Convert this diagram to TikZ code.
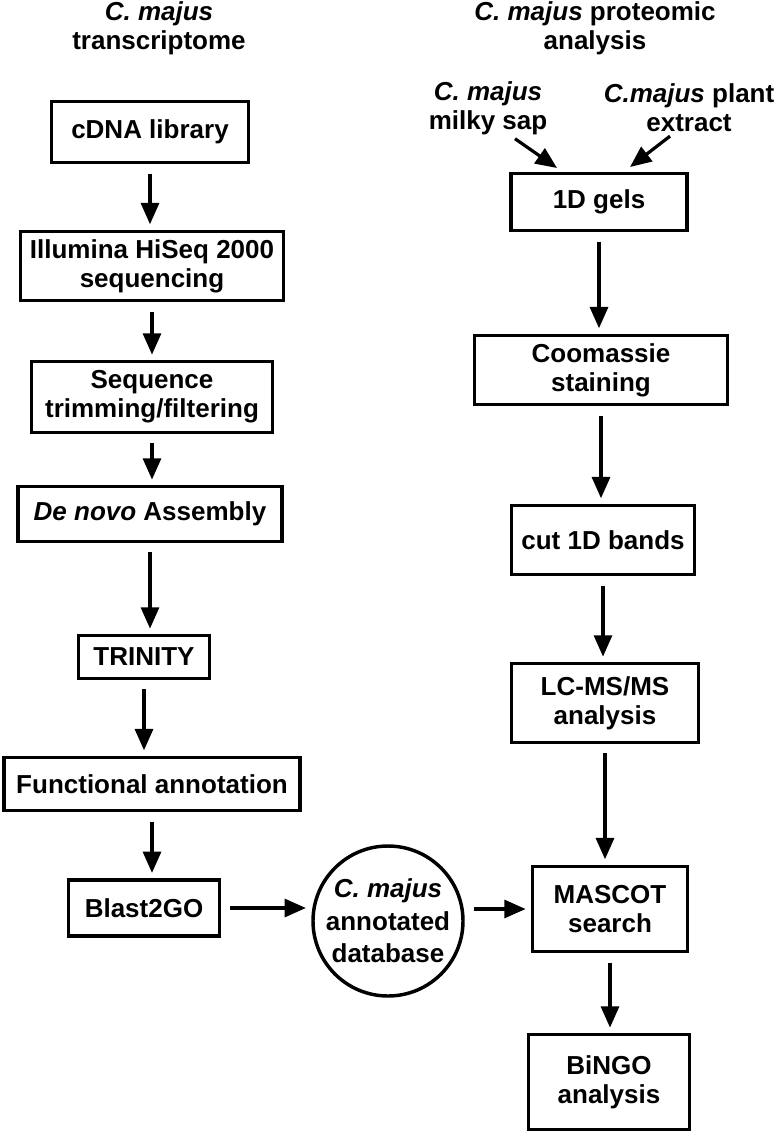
\documentclass[tikz,border=0pt]{standalone}
\usepackage{fontspec}
\setmainfont{Liberation Sans}
\usetikzlibrary{arrows.meta,calc}

\tikzset{
  box/.style={draw, line width=2.6pt, align=center, inner sep=2pt},
  lbl/.style={align=center, inner sep=0pt},
  arr/.style={line width=2.4pt, -{Triangle[length=16pt,width=13.5pt]},
    shorten <=7pt, shorten >=4pt},
}

\begin{document}
\begin{tikzpicture}[x=0.75pt,y=-0.75pt,font=\fontsize{19.5}{21.5}\selectfont\bfseries]
        \useasboundingbox (0,0) rectangle (774,1131);
        % headings
        \node[lbl] (trhead) at (159,28) {\textit{C. majus}\\transcriptome};
        \node[lbl] (prhead) at (595,28) {\textit{C. majus} proteomic\\analysis};
        \node[lbl] (sap) at (488,108) {\textit{C. majus}\\milky sap};
        \node[lbl] (extract) at (689,108) {\textit{C.majus} plant\\extract};
        % transcriptome column
        \node[box,minimum width=148pt,minimum height=46pt] (cdna) at (150,132) {cDNA library};
        \node[box,minimum width=197pt,minimum height=52pt] (illu) at (152,266) {Illumina HiSeq 2000\\sequencing};
        \node[box,minimum width=181pt,minimum height=53pt] (trim) at (152,397) {Sequence\\trimming/filtering};
        \node[box,minimum width=198pt,minimum height=41pt] (denovo) at (150,514) {\textit{De novo} Assembly};
        \node[box,minimum width=98pt,minimum height=32pt] (trinity) at (144,657) {TRINITY};
        \node[box,minimum width=222pt,minimum height=40pt] (func) at (152,784) {Functional annotation};
        \node[box,minimum width=113pt,minimum height=42pt] (blast) at (144,908) {Blast2GO};
        \node[box,circle,minimum size=108pt,inner sep=0pt,
              font=\fontsize{19.5}{24.5}\selectfont\bfseries] (db) at (388,921)
              {\textit{C. majus}\\annotated\\database};
        % proteomic column
        \node[box,minimum width=132pt,minimum height=43pt] (gels) at (599,202) {1D gels};
        \node[box,minimum width=190pt,minimum height=52pt] (coom) at (601,370) {Coomassie\\staining};
        \node[box,minimum width=137pt,minimum height=52pt] (cut) at (603,540) {cut 1D bands};
        \node[box,minimum width=140pt,minimum height=59pt] (lcms) at (605,703) {LC-MS/MS\\analysis};
        \node[box,minimum width=116pt,minimum height=64pt] (mascot) at (610,909) {MASCOT\\search};
        \node[box,minimum width=121pt,minimum height=71pt] (bingo) at (609,1082) {BiNGO\\analysis};
        \coordinate (sapin) at (557,168);
        \coordinate (extin) at (630,167);
        % arrows
        \draw[arr] (cdna) -- (cdna |- illu.north);
        \draw[arr] (illu) -- (illu |- trim.north);
        \draw[arr] (trim) -- (trim |- denovo.north);
        \draw[arr] (denovo) -- (denovo |- trinity.north);
        \draw[arr] (trinity) -- (trinity |- func.north);
        \draw[arr] (func) -- (func |- blast.north);
        \draw[arr] (blast) -- (blast -| db.west);
        \draw[arr] (mascot -| db.east) -- (mascot);
        \draw[arr,shorten <=0pt,shorten >=0pt] ($(sap.south)+(27,4)$) -- (sapin);
        \draw[arr,shorten <=0pt,shorten >=0pt] ($(extract.south)+(-19,4)$) -- (extin);
        \draw[arr] (gels) -- (gels |- coom.north);
        \draw[arr] (coom) -- (coom |- cut.north);
        \draw[arr] (cut) -- (cut |- lcms.north);
        \draw[arr] (lcms) -- (lcms |- mascot.north);
        \draw[arr] (mascot) -- (mascot |- bingo.north);
    \end{tikzpicture}
\end{document}
